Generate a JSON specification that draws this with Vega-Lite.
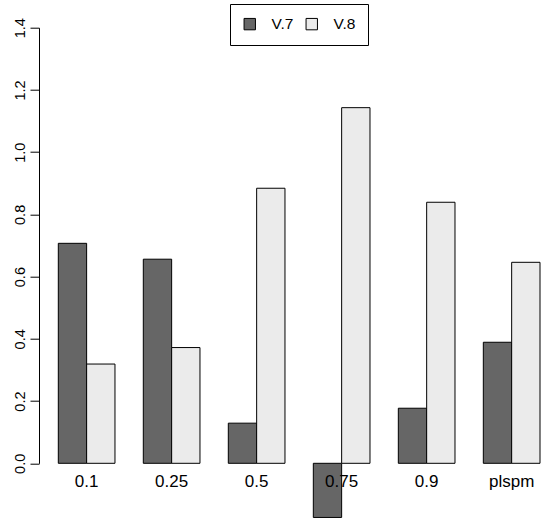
{
  "$schema": "https://vega.github.io/schema/vega-lite/v6.json",
  "autosize": "none",
  "padding": {"left": 39, "top": 27.7, "right": 0, "bottom": 55.7},
  "width": 504,
  "height": 435.6,
  "background": "white",
  "config": {
    "font": "Liberation Sans",
    "view": {"stroke": null},
    "axis": {"grid": false, "labelColor": "black", "labelFont": "Liberation Sans"}
  },
  "data": {
    "values": [
      {"tau": "0.1", "version": "V.7", "value": 0.707},
      {"tau": "0.1", "version": "V.8", "value": 0.319},
      {"tau": "0.25", "version": "V.7", "value": 0.656},
      {"tau": "0.25", "version": "V.8", "value": 0.372},
      {"tau": "0.5", "version": "V.7", "value": 0.129},
      {"tau": "0.5", "version": "V.8", "value": 0.884},
      {"tau": "0.75", "version": "V.7", "value": -0.174},
      {"tau": "0.75", "version": "V.8", "value": 1.143},
      {"tau": "0.9", "version": "V.7", "value": 0.177},
      {"tau": "0.9", "version": "V.8", "value": 0.839},
      {"tau": "plspm", "version": "V.7", "value": 0.389},
      {"tau": "plspm", "version": "V.8", "value": 0.646}
    ]
  },
  "mark": {"type": "bar", "stroke": "black", "strokeWidth": 1, "clip": false},
  "encoding": {
    "x": {
      "field": "tau",
      "type": "nominal",
      "sort": null,
      "scale": {"range": [19.3, 501], "paddingInner": 0.3333, "paddingOuter": 0},
      "axis": {"title": null, "domain": false, "ticks": false, "labelAngle": 0, "labelPadding": 10, "labelFontSize": 17, "zindex": 1}
    },
    "xOffset": {
      "field": "version",
      "type": "nominal",
      "scale": {"paddingInner": 0, "paddingOuter": 0}
    },
    "y": {
      "field": "value",
      "type": "quantitative",
      "scale": {"domain": [0, 1.4], "nice": false, "zero": false},
      "axis": {
        "title": null,
        "values": [0, 0.2, 0.4, 0.6, 0.8, 1.0, 1.2, 1.4],
        "format": ".1f",
        "domainColor": "black",
        "domainWidth": 1,
        "tickColor": "black",
        "tickWidth": 1,
        "tickSize": 9,
        "labelFontSize": 14.5,
        "labelAngle": 270,
        "labelAlign": "center",
        "labelBaseline": "bottom",
        "labelPadding": 3
      }
    },
    "fill": {
      "field": "version",
      "type": "nominal",
      "scale": {"domain": ["V.7", "V.8"], "range": ["#666666", "#EBEBEB"]},
      "legend": {
        "title": null,
        "orient": "none",
        "legendX": 191,
        "legendY": -23.7,
        "direction": "horizontal",
        "strokeColor": "black",
        "fillColor": "white",
        "padding": 12,
        "symbolType": "square",
        "symbolSize": 130,
        "symbolStrokeColor": "black",
        "symbolStrokeWidth": 1,
        "labelFontSize": 15.5,
        "labelColor": "black",
        "labelOffset": 14,
        "columnPadding": 10
      }
    }
  }
}
